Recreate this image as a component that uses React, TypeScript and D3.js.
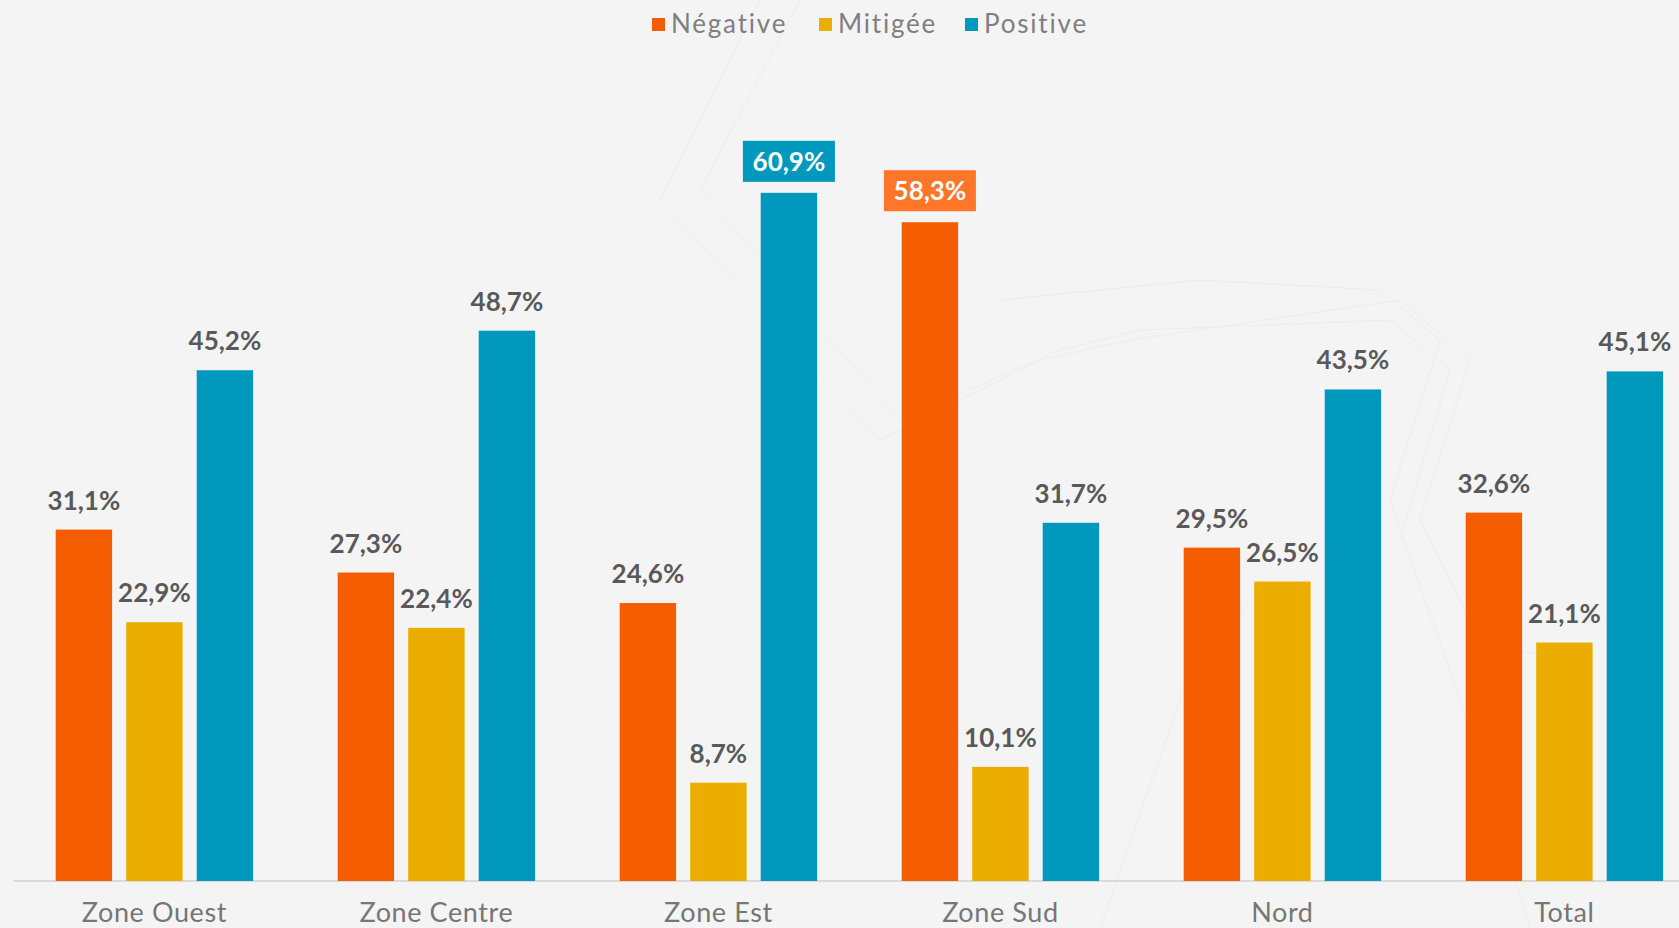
import React from "react";
import * as d3 from "d3";

const categories = ["Zone Ouest", "Zone Centre", "Zone Est", "Zone Sud", "Nord", "Total"];
const seriesNames = ["Négative", "Mitigée", "Positive"];
const negative = [31.1, 27.3, 24.6, 58.3, 29.5, 32.6];
const mitigee = [22.9, 22.4, 8.7, 10.1, 26.5, 21.1];
const positive = [45.2, 48.7, 60.9, 31.7, 43.5, 45.1];
const highlighted = [
  { series: 2, cat: 2 },
  { series: 0, cat: 3 },
];

const W = 1679;
const H = 928;
const colors = ["#F55E00", "#EAAD00", "#0098BD"];
const boxColors = ["#FF7628", "#EAAD00", "#0098BD"];

export default function App() {
  const values = [negative, mitigee, positive];
  const x0 = d3
    .scaleBand<string>()
    .domain(categories)
    .range([13.4, 1705.4])
    .paddingInner(0.3)
    .paddingOuter(0.15);
  const x1 = d3
    .scaleBand<string>()
    .domain(seriesNames)
    .range([0, x0.bandwidth()])
    .paddingInner(0.2);
  const y = d3.scaleLinear().domain([0, 70]).range([881, 881 - 11.3 * 70]);
  const fmt = (v: number) => v.toFixed(1).replace(".", ",") + "%";
  const isHL = (s: number, c: number) => highlighted.some((h) => h.series === s && h.cat === c);

  const legendItems = [
    { x: 652, w: 119 },
    { x: 819, w: 96 },
    { x: 965, w: 93 },
  ];

  return (
    <div style={{ position: "fixed", left: 0, top: 0, width: W, height: H, background: "#F4F4F4" }}>
      <svg width={W} height={H} style={{ display: "block" }}>
        <rect x={0} y={0} width={W} height={H} fill="#F4F4F4" />
        {/* faint background decoration */}
        <g fill="none" stroke="#ECECEC" strokeWidth={1}>
          <path d="M 760 0 L 660 200 L 880 440 L 1040 360 L 1130 340 L 1400 300 L 1470 360 L 1420 520 L 1480 640 L 1560 660" />
          <path d="M 800 0 L 700 190 L 900 420 L 1060 350 L 1140 330 L 1390 320 L 1450 370 L 1400 540" />
          <path d="M 1000 300 L 1200 280 L 1380 290 L 1440 340 L 1390 500 L 1460 700 L 1530 928" />
          <path d="M 1100 928 L 1180 700 L 1250 600" />
        </g>
        {/* baseline */}
        <line x1={13.4} x2={1705} y1={881} y2={881} stroke="#DADADA" strokeWidth={2} />
        {categories.map((cat, ci) => (
          <g key={cat} transform={`translate(${x0(cat)},0)`}>
            {seriesNames.map((s, si) => {
              const v = values[si][ci];
              const bx = x1(s)!;
              const bw = x1.bandwidth();
              const top = y(v);
              const cx = bx + bw / 2;
              const hl = isHL(si, ci);
              return (
                <g key={s}>
                  <rect x={bx} y={top} width={bw} height={y(0) - top} fill={colors[si]} />
                  {hl ? (
                    <g>
                      <rect x={cx - 46} y={top - 52} width={92} height={41} fill={boxColors[si]} />
                      <text
                        x={cx}
                        y={top - 22}
                        textAnchor="middle"
                        fontFamily="Lato, sans-serif"
                        fontWeight={700}
                        fontSize={26}
                        fill="#FFFFFF"
                      >
                        {fmt(v)}
                      </text>
                    </g>
                  ) : (
                    <text
                      x={cx}
                      y={top - 20}
                      textAnchor="middle"
                      fontFamily="Lato, sans-serif"
                      fontWeight={700}
                      fontSize={26}
                      fill="#595959"
                    >
                      {fmt(v)}
                    </text>
                  )}
                </g>
              );
            })}
            <text
              x={x0.bandwidth() / 2}
              y={922}
              textAnchor="middle"
              fontFamily="Lato, sans-serif"
              fontSize={27}
              letterSpacing={0.6}
              fill="#767676"
            >
              {cat}
            </text>
          </g>
        ))}
        {/* legend */}
        {seriesNames.map((s, i) => (
          <g key={s}>
            <rect x={legendItems[i].x} y={18} width={13} height={13} fill={colors[i]} />
            <text
              x={legendItems[i].x + 19}
              y={33}
              fontFamily="Lato, sans-serif"
              fontSize={26}
              letterSpacing={1.8}
              fill="#7F7F7F"
            >
              {s}
            </text>
          </g>
        ))}
      </svg>
    </div>
  );
}
